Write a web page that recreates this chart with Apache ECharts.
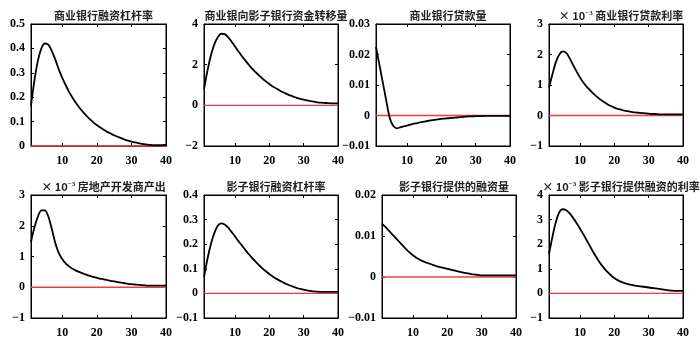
<!DOCTYPE html>
<html>
<head>
<meta charset="utf-8">
<script src="https://cdn.jsdelivr.net/npm/echarts@6/dist/echarts.min.js"></script>
<style>
  html, body { margin: 0; padding: 0; background: #fff; }
  #chart { width: 700px; height: 343px; }
</style>
</head>
<body>
<div id="chart"></div>
<script>
  // 期数 1..40
  const periods = Array.from({length: 40}, (_, i) => i + 1)
  const xTicks = [10, 20, 30, 40]

  // 商业银行融资杠杆率
  const cbLeverage = [0.165, 0.27, 0.35, 0.40, 0.42, 0.415, 0.39, 0.355, 0.315, 0.28,
    0.25, 0.222, 0.198, 0.176, 0.157, 0.14, 0.124, 0.11, 0.097, 0.086,
    0.076, 0.067, 0.058, 0.051, 0.044, 0.038, 0.032, 0.027, 0.022, 0.018,
    0.015, 0.012, 0.009, 0.007, 0.005, 0.004, 0.003, 0.003, 0.004, 0.005]
  // 商业银向影子银行资金转移量
  const fundTransfer = [0.8, 1.7, 2.45, 3.0, 3.35, 3.52, 3.5, 3.36, 3.14, 2.9,
    2.66, 2.43, 2.21, 2.0, 1.81, 1.63, 1.47, 1.32, 1.18, 1.05,
    0.93, 0.83, 0.73, 0.64, 0.56, 0.49, 0.43, 0.37, 0.32, 0.28,
    0.24, 0.21, 0.18, 0.15, 0.13, 0.12, 0.11, 0.1, 0.1, 0.1]
  // 商业银行贷款量
  const cbLoans = [0.0225, 0.0166, 0.0107, 0.0048, -0.0008, -0.0034, -0.0042, -0.0039, -0.0036, -0.0033,
    -0.003, -0.0027, -0.0025, -0.0022, -0.002, -0.0018, -0.0016, -0.0014, -0.0013, -0.0011,
    -0.001, -0.0009, -0.0008, -0.0007, -0.0006, -0.0005, -0.0004, -0.0003, -0.0003, -0.0002,
    -0.0002, -0.0002, -0.0001, -0.0001, -0.0001, -0.0001, -0.0001, -0.0001, -0.0001, -0.0001]
  // 商业银行贷款利率 (×10^-3)
  const cbLoanRate = [0.92, 1.35, 1.75, 2.0, 2.1, 2.05, 1.88, 1.66, 1.45, 1.25,
    1.08, 0.94, 0.82, 0.71, 0.61, 0.52, 0.44, 0.37, 0.31, 0.26,
    0.22, 0.19, 0.16, 0.14, 0.12, 0.1, 0.09, 0.08, 0.07, 0.06,
    0.05, 0.05, 0.04, 0.04, 0.04, 0.04, 0.04, 0.04, 0.04, 0.04]
  // 房地产开发商产出 (×10^-3)
  const devOutput = [1.48, 1.95, 2.3, 2.5, 2.5, 2.3, 1.9, 1.45, 1.12, 0.92,
    0.78, 0.68, 0.6, 0.54, 0.49, 0.45, 0.41, 0.37, 0.34, 0.31,
    0.28, 0.26, 0.23, 0.21, 0.19, 0.17, 0.15, 0.13, 0.11, 0.1,
    0.09, 0.08, 0.07, 0.06, 0.05, 0.05, 0.05, 0.05, 0.05, 0.05]
  // 影子银行融资杠杆率
  const sbLeverage = [0.066, 0.14, 0.2, 0.245, 0.275, 0.285, 0.28, 0.268, 0.25, 0.232,
    0.213, 0.195, 0.177, 0.16, 0.144, 0.129, 0.115, 0.102, 0.09, 0.079,
    0.069, 0.06, 0.052, 0.045, 0.038, 0.032, 0.027, 0.022, 0.018, 0.015,
    0.012, 0.01, 0.008, 0.007, 0.006, 0.006, 0.006, 0.006, 0.006, 0.006]
  // 影子银行提供的融资量
  const sbFinance = [0.013, 0.0122, 0.0113, 0.0104, 0.0095, 0.0086, 0.0077, 0.0068, 0.006, 0.0053,
    0.0047, 0.0042, 0.0038, 0.0035, 0.0032, 0.0029, 0.0026, 0.0024, 0.0022, 0.002,
    0.0018, 0.0016, 0.0014, 0.0012, 0.001, 0.0009, 0.0007, 0.0006, 0.0005, 0.0004,
    0.0004, 0.0004, 0.0004, 0.0004, 0.0004, 0.0004, 0.0004, 0.0004, 0.0004, 0.0004]
  // 影子银行提供融资的利率 (×10^-3)
  const sbRate = [1.6, 2.3, 2.9, 3.3, 3.42, 3.38, 3.25, 3.07, 2.86, 2.64,
    2.4, 2.15, 1.9, 1.65, 1.42, 1.21, 1.03, 0.87, 0.74, 0.63,
    0.54, 0.47, 0.42, 0.38, 0.35, 0.32, 0.3, 0.28, 0.26, 0.24,
    0.22, 0.2, 0.18, 0.16, 0.14, 0.12, 0.11, 0.1, 0.1, 0.1]

  const panels = [
    {title: '商业银行融资杠杆率', scaled: false, data: cbLeverage, min: 0, max: 0.5, interval: 0.1},
    {title: '商业银向影子银行资金转移量', scaled: false, data: fundTransfer, min: -2, max: 4, interval: 2},
    {title: '商业银行贷款量', scaled: false, data: cbLoans, min: -0.01, max: 0.03, interval: 0.01},
    {title: '商业银行贷款利率', scaled: true, data: cbLoanRate, min: -1, max: 3, interval: 1},
    {title: '房地产开发商产出', scaled: true, data: devOutput, min: -1, max: 3, interval: 1},
    {title: '影子银行融资杠杆率', scaled: false, data: sbLeverage, min: -0.1, max: 0.4, interval: 0.1},
    {title: '影子银行提供的融资量', scaled: false, data: sbFinance, min: -0.01, max: 0.02, interval: 0.01},
    {title: '影子银行提供融资的利率', scaled: true, data: sbRate, min: -1, max: 4, interval: 1}
  ]
  // 各子图位置
  const boxes = [
    [31, 24, 135, 122], [204, 24, 134, 122], [376, 24, 134, 122], [549, 24, 134, 122],
    [31, 195, 135, 123], [204, 195, 134, 123], [382, 195, 134, 123], [549, 195, 134, 123]
  ]

  const numFont = 'Liberation Serif'
  const cjkFont = 'Noto Sans CJK SC'
  const fmt = v => String(+v.toFixed(4)).replace('-', '\u2212')

  const grid = [], xAxis = [], yAxis = [], series = [], title = []
  panels.forEach((p, i) => {
    const [l, t, w, h] = boxes[i]
    grid.push({left: l, top: t, width: w, height: h, show: true, borderColor: '#000', borderWidth: 1, backgroundColor: '#fff'})
    const tick = {show: true, inside: true, length: 3, lineStyle: {color: '#000'}}
    const line = {show: true, onZero: false, lineStyle: {color: '#000'}}
    xAxis.push({
      gridIndex: i, type: 'value', min: 1, max: 40,
      axisLine: line,
      axisTick: {...tick, customValues: xTicks},
      axisLabel: {customValues: xTicks, color: '#000', fontFamily: numFont, fontWeight: 'bold', fontSize: 12, margin: 9},
      splitLine: {show: false}
    })
    xAxis.push({
      gridIndex: i, type: 'value', min: 1, max: 40, position: 'top',
      axisLine: line,
      axisTick: {...tick, customValues: xTicks},
      axisLabel: {show: false}, splitLine: {show: false}
    })
    yAxis.push({
      gridIndex: i, type: 'value', min: p.min, max: p.max, interval: p.interval,
      axisLine: line,
      axisTick: tick,
      axisLabel: {color: '#000', fontFamily: numFont, fontWeight: 'bold', fontSize: 12, margin: 6, formatter: fmt},
      splitLine: {show: false}
    })
    yAxis.push({
      gridIndex: i, type: 'value', min: p.min, max: p.max, interval: p.interval, position: 'right',
      axisLine: line,
      axisTick: tick,
      axisLabel: {show: false}, splitLine: {show: false}
    })
    // 零线
    series.push({
      type: 'line', xAxisIndex: i * 2, yAxisIndex: i * 2,
      data: [periods[0], periods[periods.length - 1]].map(x => [x, 0]),
      showSymbol: false, silent: true, clip: false,
      lineStyle: {color: '#f03c3c', width: 1.4},
      z: 2
    })
    series.push({
      type: 'line', xAxisIndex: i * 2, yAxisIndex: i * 2,
      data: periods.map((x, k) => [x, p.data[k]]),
      showSymbol: false, smooth: 0.3, silent: true,
      lineStyle: {color: '#000', width: 1.8},
      z: 3
    })
    title.push({
      text: p.scaled ? '× 10{sup|\u22123} ' + p.title : p.title,
      left: l + w / 2, top: t - 19, textAlign: 'center',
      textStyle: {
        fontFamily: cjkFont, fontSize: 11, fontWeight: 'bold', color: '#222',
        rich: {sup: {fontSize: 7, fontFamily: numFont, padding: [0, 0, 5, 0]}}
      }
    })
  })

  const chart = echarts.init(document.getElementById('chart'), null, {renderer: 'canvas'})
  chart.setOption({animation: false, grid, xAxis, yAxis, series, title})
</script>
</body>
</html>
